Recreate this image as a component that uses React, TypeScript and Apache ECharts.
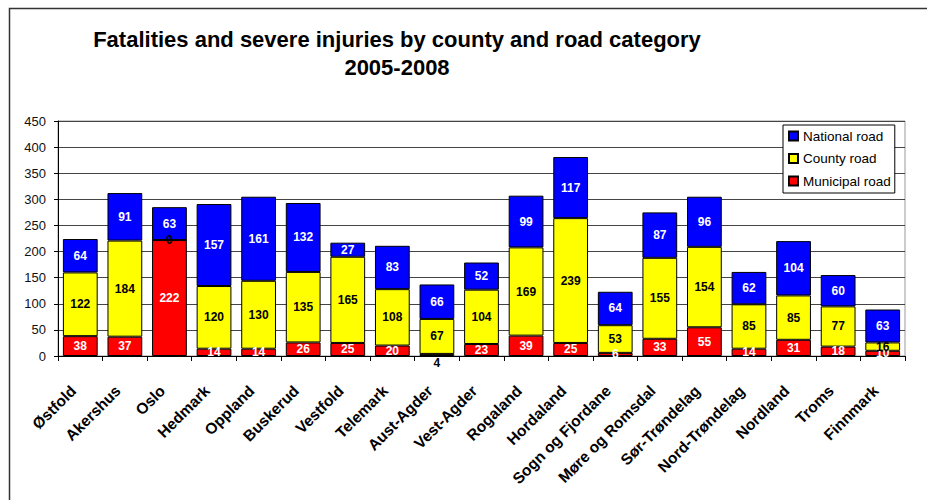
import React, { useEffect, useRef } from "react";
import * as echarts from "echarts";

const counties = [
  "Østfold", "Akershus", "Oslo", "Hedmark", "Oppland", "Buskerud", "Vestfold",
  "Telemark", "Aust-Agder", "Vest-Agder", "Rogaland", "Hordaland",
  "Sogn og Fjordane", "Møre og Romsdal", "Sør-Trøndelag", "Nord-Trøndelag",
  "Nordland", "Troms", "Finnmark",
];
const municipalRoad = [38, 37, 222, 14, 14, 26, 25, 20, 4, 23, 39, 25, 6, 33, 55, 14, 31, 18, 10];
const countyRoad = [122, 184, 0, 120, 130, 135, 165, 108, 67, 104, 169, 239, 53, 155, 154, 85, 85, 77, 16];
const nationalRoad = [64, 91, 63, 157, 161, 132, 27, 83, 66, 52, 99, 117, 64, 87, 96, 62, 104, 60, 63];
const yTicks = { min: 0, max: 450, interval: 50 };

const FONT = "'Liberation Sans', Arial, sans-serif";

export default function App() {
  const ref = useRef<HTMLDivElement>(null);
  useEffect(() => {
    if (!ref.current) return;
    const chart = echarts.init(ref.current, undefined, { renderer: "svg" });
    const barLabel = (color: string) => ({
      show: true,
      position: "inside" as const,
      color,
      fontFamily: FONT,
      fontWeight: "bold" as const,
      fontSize: 12,
    });
    const item = (color: string) => ({ color, borderColor: "#000", borderWidth: 1 });
    chart.setOption({
      animation: false,
      textStyle: { fontFamily: FONT },
      title: {
        text: "Fatalities and severe injuries by county and road category\n2005-2008",
        left: 392,
        textAlign: "center",
        top: 20,
        textStyle: { fontFamily: FONT, fontWeight: "bold", fontSize: 22, lineHeight: 28.5, color: "#000" },
      },
      graphic: [
        {
          type: "polyline",
          shape: { points: [[9.5, 520], [9.5, 8.5], [940, 8.5]] },
          style: { stroke: "#333", lineWidth: 1.5, fill: "none" },
          silent: true,
        },
      ],
      legend: {
        data: ["National road", "County road", "Municipal road"],
        orient: "vertical",
        left: 783,
        top: 125,
        itemWidth: 9,
        itemHeight: 9,
        itemGap: 8.5,
        icon: "rect",
        padding: [4, 4, 5, 5],
        backgroundColor: "#fff",
        borderColor: "#000",
        borderWidth: 1,
        textStyle: { fontFamily: FONT, fontSize: 13.5, color: "#000" },
      },
      grid: {
        left: 58,
        right: 22,
        top: 121,
        bottom: 144,
        show: true,
        borderColor: "#999",
        borderWidth: 1,
      },
      xAxis: {
        type: "category",
        data: counties,
        axisLine: { lineStyle: { color: "#000", width: 1 } },
        axisTick: { show: true, length: 5, lineStyle: { color: "#000" } },
        axisLabel: {
          rotate: 45,
          interval: 0,
          margin: 25,
          padding: [0, 10, 0, 0],
          color: "#000",
          fontFamily: FONT,
          fontWeight: "bold",
          fontSize: 15.5,
        },
      },
      yAxis: {
        type: "value",
        ...yTicks,
        axisLine: { show: true, lineStyle: { color: "#000", width: 1 } },
        axisTick: { show: true, length: 4, lineStyle: { color: "#000" } },
        axisLabel: { color: "#111", fontFamily: FONT, fontSize: 13, margin: 12 },
        splitLine: { lineStyle: { color: "#444", width: 1 } },
      },
      series: [
        {
          name: "Municipal road",
          type: "bar",
          stack: "total",
          barWidth: "78%",
          data: municipalRoad.map((v) =>
            v === 4
              ? { value: v, label: { position: "bottom", distance: 1, color: "#000" } }
              : v
          ),
          itemStyle: item("#FF0000"),
          label: barLabel("#fff"),
        },
        {
          name: "County road",
          type: "bar",
          stack: "total",
          barWidth: "78%",
          data: countyRoad,
          itemStyle: item("#FFFF00"),
          label: barLabel("#000"),
        },
        {
          name: "National road",
          type: "bar",
          stack: "total",
          barWidth: "78%",
          data: nationalRoad,
          itemStyle: item("#0000FF"),
          label: barLabel("#fff"),
        },
      ],
    });
    return () => chart.dispose();
  }, []);
  return (
    <div
      ref={ref}
      style={{ position: "absolute", left: 0, top: 0, width: 927, height: 500, background: "#fff" }}
    />
  );
}
